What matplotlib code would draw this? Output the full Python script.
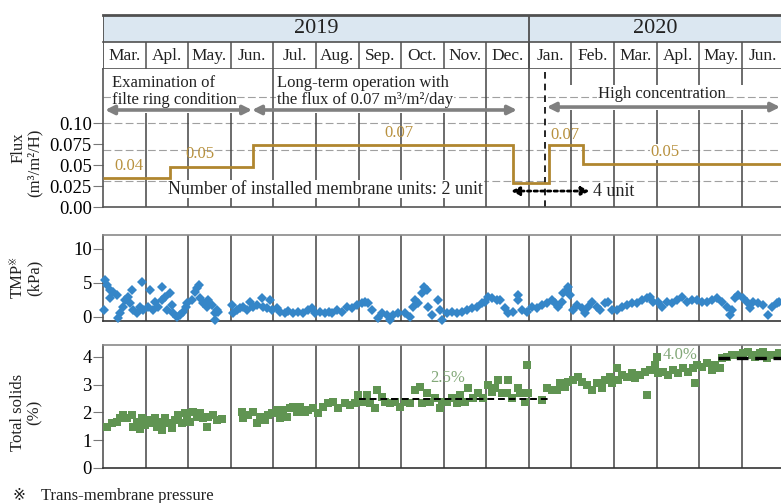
import matplotlib
matplotlib.use("Agg")
import matplotlib.pyplot as plt
from matplotlib.patches import FancyArrowPatch

plt.rcParams["font.family"] = ["Liberation Serif", "DejaVu Serif", "DejaVu Sans", "Noto Sans CJK JP"]
plt.rcParams["text.color"] = "#222222"

# ---- data (x positions in months since 1 Mar 2019) ----
YEARS = ["2019", "2020"]
YEAR_X = [5.0, 12.96]
MONTHS = ["Mar.", "Apl.", "May.", "Jun.", "Jul.", "Aug.", "Sep.", "Oct.", "Nov.", "Dec.",
          "Jan.", "Feb.", "Mar.", "Apl.", "May.", "Jun."]
X_END = 15.92            # the last month column is cut at the image edge

FLUX_EDGES = [0, 1.57, 3.52, 9.62, 10.47, 11.27, X_END]
FLUX_VALUES = [0.0345, 0.0476, 0.0738, 0.0286, 0.0738, 0.0512]
FLUX_LABELS = ["0.04", "0.05", "0.07", "0.07", "0.05"]
FLUX_LABEL_X = [0.61, 2.28, 6.95, 10.85, 13.19]
FLUX_LABEL_Y = [0.0488, 0.063, 0.088, 0.0857, 0.0655]
FLUX_GRID = [0.131, 0.100, 0.068, 0.031]
UNIT_CHANGE = 10.38

TMP_X = [0.02, 0.05, 0.09, 0.16, 0.23, 0.16, 0.33, 0.40, 0.35, 0.47, 0.52, 0.59, 0.68, 0.63, 0.70, 0.80, 0.87, 0.92, 0.94,
         1.06, 1.10, 1.17, 1.22, 1.29, 1.38, 1.39, 1.46, 1.50, 1.57, 1.62, 1.64, 1.74, 1.81, 1.88, 1.95, 1.97,
         2.09, 2.16, 2.21, 2.25, 2.28, 2.35, 2.44, 2.46, 2.56, 2.63, 2.68, 2.64, 2.70,
         3.03, 3.05, 3.15, 3.22, 3.29, 3.38, 3.45, 3.52, 3.62, 3.73, 3.76, 3.85, 3.92, 3.97,
         4.08, 4.15, 4.27, 4.34, 4.46, 4.58, 4.69, 4.81, 4.91, 4.98,
         5.09, 5.21, 5.31, 5.38, 5.49, 5.61, 5.73, 5.85, 5.96,
         6.08, 6.15, 6.22, 6.31, 6.46, 6.55, 6.67, 6.74, 6.81, 6.92,
         7.09, 7.21, 7.28, 7.32, 7.39, 7.49, 7.54, 7.61, 7.63, 7.72, 7.86, 7.91, 7.96,
         8.08, 8.19, 8.31, 8.43, 8.54, 8.66, 8.78, 8.90, 8.97,
         9.04, 9.13, 9.25, 9.32, 9.44, 9.51, 9.62, 9.74, 9.75, 9.84, 9.95,
         10.07, 10.19, 10.31, 10.42, 10.54, 10.61, 10.68, 10.77, 10.80, 10.89, 10.92, 10.96,
         11.03, 11.13, 11.24, 11.31, 11.38, 11.48, 11.60, 11.67, 11.78, 11.85, 11.95,
         12.07, 12.18, 12.30, 12.42, 12.54, 12.65, 12.77, 12.84, 12.91,
         13.03, 13.12, 13.24, 13.36, 13.47, 13.59, 13.71, 13.83, 13.94,
         14.06, 14.18, 14.30, 14.41, 14.53, 14.65, 14.72, 14.77, 14.84, 14.91,
         15.02, 15.12, 15.19, 15.26, 15.38, 15.49, 15.61, 15.70, 15.82, 15.87]
TMP_Y = [1.0, 5.4, 4.7, 4.0, 3.7, 2.8, 3.2, 0.6, -0.1, 1.5, 2.5, 2.9, 4.0, 2.0, 1.0, 0.6, 1.5, 5.1, 1.0,
         1.5, 4.0, 1.0, 2.2, 1.5, 4.4, 2.5, 2.9, 1.0, 3.5, 1.8, 0.6, 0.0, 0.3, 0.7, 1.5, 2.0,
         2.5, 3.7, 4.2, 4.7, 2.8, 2.0, 1.5, 2.5, 1.8, 0.6, 1.0, -0.4, 0.7,
         1.8, 0.6, 1.0, 1.3, 1.5, 1.0, 2.2, 1.5, 1.8, 2.8, 1.5, 1.3, 2.5, 1.0,
         1.3, 0.7, 0.6, 0.9, 0.6, 0.7, 0.6, 1.0, 1.3, 0.6,
         0.7, 0.6, 0.7, 0.6, 1.0, 0.7, 1.5, 1.3, 1.8,
         2.0, 2.2, 2.0, 1.0, -0.1, 0.6, 0.3, -0.4, 0.3, 0.6,
         0.6, 0.0, 1.5, 2.5, 2.0, 3.5, 4.4, 4.0, 1.5, 0.3, 2.5, 1.0, -0.5,
         0.6, 0.7, 0.6, 0.7, 1.0, 1.3, 1.5, 2.0, 2.2,
         2.9, 2.8, 2.5, 2.5, 1.3, 0.6, 0.7, 3.2, 2.5, 1.0, 0.7,
         1.5, 1.3, 1.8, 2.0, 2.5, 2.0, 1.5, 2.2, 3.5, 4.0, 4.4, 3.2,
         1.0, 1.8, 1.3, 0.6, 1.5, 2.2, 1.5, 1.0, 2.0, 2.2, 1.0,
         1.0, 1.5, 1.8, 2.0, 2.0, 2.5, 2.8, 2.9, 2.2,
         2.2, 1.5, 2.2, 2.0, 2.5, 2.9, 2.2, 2.5, 2.5,
         2.2, 2.2, 2.5, 2.8, 2.2, 1.5, 0.3, 1.0, 2.8, 3.2,
         2.8, 2.2, 1.3, 2.2, 2.0, 1.8, 0.3, 1.5, 2.0, 2.2]

TS_X = [0.09, 0.21, 0.33, 0.40, 0.47, 0.56, 0.68, 0.70, 0.80, 0.87, 0.92, 0.99,
        1.06, 1.15, 1.22, 1.27, 1.34, 1.38, 1.46, 1.53, 1.62, 1.69, 1.76, 1.85, 1.92, 1.97,
        2.04, 2.11, 2.21, 2.28, 2.35, 2.44, 2.46, 2.58, 2.68, 2.79,
        3.26, 3.29, 3.40, 3.52, 3.62, 3.69, 3.80, 3.87, 3.97,
        4.08, 4.15, 4.23, 4.32, 4.39, 4.46, 4.55, 4.62, 4.74, 4.81, 4.93,
        5.05, 5.16, 5.28, 5.40, 5.52, 5.68, 5.80, 5.92, 5.99,
        6.08, 6.20, 6.27, 6.38, 6.43, 6.55, 6.62, 6.74, 6.85, 6.97,
        7.09, 7.21, 7.32, 7.44, 7.49, 7.61, 7.68, 7.79, 7.91, 7.96,
        8.08, 8.19, 8.31, 8.38, 8.50, 8.57, 8.69, 8.80, 8.92,
        9.04, 9.13, 9.20, 9.27, 9.37, 9.48, 9.51, 9.60, 9.74, 9.79, 9.91, 9.95, 9.98,
        10.31, 10.42, 10.54, 10.66, 10.73, 10.85, 10.92,
        11.03, 11.15, 11.24, 11.36, 11.48, 11.60, 11.71, 11.78, 11.90, 11.95,
        12.07, 12.09, 12.18, 12.30, 12.42, 12.49, 12.61, 12.72, 12.77, 12.84, 12.96,
        13.00, 13.03, 13.15, 13.26, 13.38, 13.50, 13.62, 13.73, 13.85, 13.90, 13.94,
        14.06, 14.18, 14.30, 14.37, 14.48, 14.53, 14.65, 14.77, 14.88,
        15.02, 15.14, 15.23, 15.31, 15.42, 15.49, 15.59, 15.66, 15.77, 15.87]
TS_Y = [1.48, 1.62, 1.66, 1.80, 1.91, 1.80, 1.91, 1.48, 1.66, 1.40, 1.80, 1.55,
        1.73, 1.62, 1.80, 1.48, 1.66, 1.37, 1.80, 1.62, 1.44, 1.73, 1.91, 1.62, 1.98, 1.80,
        1.66, 2.02, 1.84, 1.98, 1.80, 1.48, 1.84, 1.91, 1.73, 1.77,
        2.02, 1.80, 1.91, 2.02, 1.62, 1.84, 1.73, 1.91, 1.98,
        2.09, 1.80, 2.09, 1.84, 2.16, 2.20, 2.02, 2.20, 2.02, 2.09, 2.16,
        1.98, 2.20, 2.34, 2.38, 2.16, 2.34, 2.27, 2.34, 2.63,
        2.38, 2.63, 2.34, 2.16, 2.81, 2.56, 2.38, 2.34, 2.38, 2.20,
        2.38, 2.34, 2.81, 2.92, 2.34, 2.70, 2.38, 2.52, 2.16, 2.38,
        2.38, 2.52, 2.34, 2.63, 2.38, 2.88, 2.52, 2.70, 2.52,
        2.99, 2.74, 2.88, 3.17, 2.70, 2.70, 3.17, 2.52, 2.88, 2.70, 2.38, 3.71, 2.70,
        2.45, 2.88, 2.81, 2.81, 3.06, 2.92, 3.10,
        3.17, 3.28, 3.10, 2.99, 2.81, 3.06, 2.88, 3.17, 3.28, 3.06,
        3.60, 3.17, 3.35, 3.28, 3.42, 3.24, 3.35, 3.46, 2.63, 3.53, 3.71,
        4.00, 3.42, 3.46, 3.35, 3.53, 3.42, 3.60, 3.46, 3.60, 3.06, 3.71,
        3.64, 3.78, 3.53, 3.71, 3.60, 3.96, 4.00, 4.07, 4.07,
        4.14, 4.18, 4.07, 4.00, 4.14, 4.18, 3.96, 4.07, 4.07, 4.14]

TS_LEVELS = [2.5, 3.95]
TS_LEVEL_SPAN = [(6.01, 10.45), (14.44, X_END)]
TS_LEVEL_LABELS = ["2.5%", "4.0%"]
TS_LABEL_X = [8.1, 13.55]
TS_LABEL_Y = [3.25, 4.08]

FLUX_C = "#b0862f"; FLUX_TXT = "#b8913e"
TMP_C = "#3586c8"; TS_C = "#609452"; TS_TXT = "#82a878"
LINE_C = "#444444"; ARROW_C = "#808080"

W, H = 781, 503
def box(x0, y0, x1, y1):
    return [x0 / W, 1 - y1 / H, (x1 - x0) / W, (y1 - y0) / H]

def ftext(px, py, s, **kw):
    # text placed by pixel position in the figure
    return fig.text(px / W, 1 - py / H, s, **kw)

fig = plt.figure(figsize=(W / 100, H / 100), dpi=100)

# ---- header table: years and months ----
axh = fig.add_axes(box(103, 15, 781, 69))
axh.set_xlim(0, X_END); axh.set_ylim(0, 2); axh.axis("off")
axh.axhspan(1, 2, color="#dbe7f1", lw=0)
for y, lw in [(2, 2.0), (1, 1.2), (0, 1.2)]:
    axh.axhline(y, color="#505050", lw=lw, clip_on=False)
axh.vlines([0, 10], 0, 2, color="#505050", lw=1.3)
axh.vlines(range(1, 16), 0, 1, color="#505050", lw=1.1)
for yr, x in zip(YEARS, YEAR_X):
    axh.text(x, 1.5, yr, ha="center", va="center", fontsize=16)
for i, m in enumerate(MONTHS):
    axh.text(i + 0.5, 0.5, m, ha="center", va="center", fontsize=12.5)

# ---- flux panel ----
axf = fig.add_axes(box(103, 69, 781, 207))
axf.set_xlim(0, X_END); axf.set_ylim(0, 0.1643)
for s in ("top", "right"):
    axf.spines[s].set_visible(False)
for s in ("left", "bottom"):
    axf.spines[s].set_color("#555555"); axf.spines[s].set_linewidth(1.2)
axf.set_xticks([])
axf.set_yticks([0, 0.025, 0.05, 0.075, 0.10])
axf.set_yticklabels(["0.00", "0.025", "0.05", "0.075", "0.10"])
axf.tick_params(axis="y", length=7, width=0.8, color="#777777", labelsize=13.5, pad=1)
for gy in FLUX_GRID:
    axf.axhline(gy, color="#a0a0a0", lw=0.8, ls=(0, (7, 3)), zorder=1)
# month separators; broken where the annotation texts sit
for i in range(1, 16):
    if i in (4, 9, 10):
        axf.vlines(i, 0, 0.1643, color=LINE_C, lw=1.1, zorder=1.5)
    elif i > 10:
        axf.vlines(i, 0, 0.1155, color=LINE_C, lw=1.1, zorder=1.5)
        axf.vlines(i, 0.1452, 0.1643, color=LINE_C, lw=1.1, zorder=1.5)
    else:
        axf.vlines(i, 0, 0.112, color=LINE_C, lw=1.1, zorder=1.5)
axf.axvline(UNIT_CHANGE, color="black", lw=1.2, ls=(0, (4, 3)), zorder=2)
axf.stairs(FLUX_VALUES, FLUX_EDGES, baseline=None, color=FLUX_C, lw=2.0, zorder=3)
for lab, x, y in zip(FLUX_LABELS, FLUX_LABEL_X, FLUX_LABEL_Y):
    bb = dict(fc="white", ec="none", pad=0.3) if lab == "0.05" and x > 10 else None
    axf.text(x, y, lab, color=FLUX_TXT, ha="center", va="center", fontsize=12, bbox=bb, zorder=4)

wbox = dict(fc="white", ec="none", pad=0.5)
axf.text(0.21, 0.1476, "Examination of", ha="left", va="center", fontsize=12, bbox=wbox, zorder=4)
axf.text(0.21, 0.1274, "filte ring condition", ha="left", va="center", fontsize=12, bbox=wbox, zorder=4)
axf.text(4.08, 0.1476, "Long-term operation with", ha="left", va="center", fontsize=12, bbox=wbox, zorder=4)
axf.text(4.08, 0.1274, "the flux of 0.07 m³/m²/day", ha="left", va="center", fontsize=12, bbox=wbox, zorder=4)
axf.text(13.12, 0.1345, "High concentration", ha="center", va="center", fontsize=12, bbox=wbox, zorder=4)

arr = dict(arrowstyle="<|-|>", color=ARROW_C, lw=2.6, mutation_scale=13, shrinkA=0, shrinkB=0)
axf.annotate("", xy=(3.5, 0.1155), xytext=(0.05, 0.1155), arrowprops=arr, zorder=5)
axf.annotate("", xy=(9.72, 0.1155), xytext=(3.5, 0.1155), arrowprops=arr, zorder=5)
axf.annotate("", xy=(15.9, 0.119), xytext=(10.42, 0.119), arrowprops=arr, zorder=5,
             annotation_clip=False)

axf.text(5.23, 0.0214, "Number of installed membrane units: 2 unit", ha="center", va="center",
         fontsize=13, bbox=dict(fc="white", ec="none", pad=0.2), zorder=4)
dotted = FancyArrowPatch((9.58, 0.019), (11.43, 0.019), arrowstyle="<|-|>", mutation_scale=12,
                         color="black", lw=2.0, ls=(0, (1.2, 1.2)), shrinkA=0, shrinkB=0, zorder=5)
axf.add_patch(dotted)
axf.text(11.5, 0.019, "4 unit", ha="left", va="center", fontsize=13, zorder=4)

# ---- TMP panel ----
axt = fig.add_axes(box(103, 235, 781, 321))
axt.set_xlim(0, X_END); axt.set_ylim(-0.6, 12.05)
axt.spines["right"].set_visible(False)
axt.spines["top"].set_color("#8a8a8a"); axt.spines["left"].set_color("#555555")
axt.spines["bottom"].set_color("#333333")
for s in ("top", "left", "bottom"):
    axt.spines[s].set_linewidth(1.2)
axt.set_xticks([])
axt.set_yticks([0, 5, 10])
axt.tick_params(axis="y", length=7, width=0.8, color="#777777", labelsize=13.5, pad=1)
axt.vlines(range(1, 16), -0.6, 12.05, color=LINE_C, lw=1.1, zorder=1)
axt.plot(TMP_X, TMP_Y, ls="none", marker="D", ms=5.3, mew=0, color=TMP_C, zorder=3, clip_on=False)

# ---- total solids panel ----
axs = fig.add_axes(box(103, 345, 781, 468))
axs.set_xlim(0, X_END); axs.set_ylim(0, 4.43)
axs.spines["right"].set_visible(False)
axs.spines["top"].set_color("#8a8a8a"); axs.spines["left"].set_color("#555555")
axs.spines["bottom"].set_color("#333333")
for s in ("top", "left", "bottom"):
    axs.spines[s].set_linewidth(1.2)
axs.set_xticks([])
axs.set_yticks([0, 1, 2, 3, 4])
axs.tick_params(axis="y", length=7, width=0.8, color="#777777", labelsize=13.5, pad=1)
axs.vlines(range(1, 16), 0, 4.43, color=LINE_C, lw=1.1, zorder=1)
axs.plot(TS_X, TS_Y, ls="none", marker="s", ms=6.3, mew=0, color=TS_C, zorder=3, clip_on=False)
for lvl, (x0, x1), lw in zip(TS_LEVELS, TS_LEVEL_SPAN, [1.4, 2.4]):
    axs.hlines(lvl, x0, x1, color="black", lw=lw, ls=(0, (3.5, 2)), zorder=4)
for lab, x, y in zip(TS_LEVEL_LABELS, TS_LABEL_X, TS_LABEL_Y):
    axs.text(x, y, lab, color=TS_TXT, ha="center", va="center", fontsize=12, zorder=5)

# ---- axis titles and footnote ----
rot = dict(rotation=90, ha="center", va="center", fontsize=12)
ftext(19, 148, "Flux", **rot)
ftext(35, 163, "(m³/m²/H)", **rot)
ftext(18, 281, "TMP", **rot)
ftext(14, 261, "※", rotation=90, ha="center", va="center", fontsize=7)
ftext(35, 278, "(kPa)", **rot)
ftext(18, 412, "Total solids", **rot)
ftext(35, 412, "(%)", **rot)
ftext(19, 496, "※", ha="center", va="center", fontsize=11)
ftext(41, 496, "Trans-membrane pressure", ha="left", va="center", fontsize=12)

fig.savefig("out.png", dpi=100)
